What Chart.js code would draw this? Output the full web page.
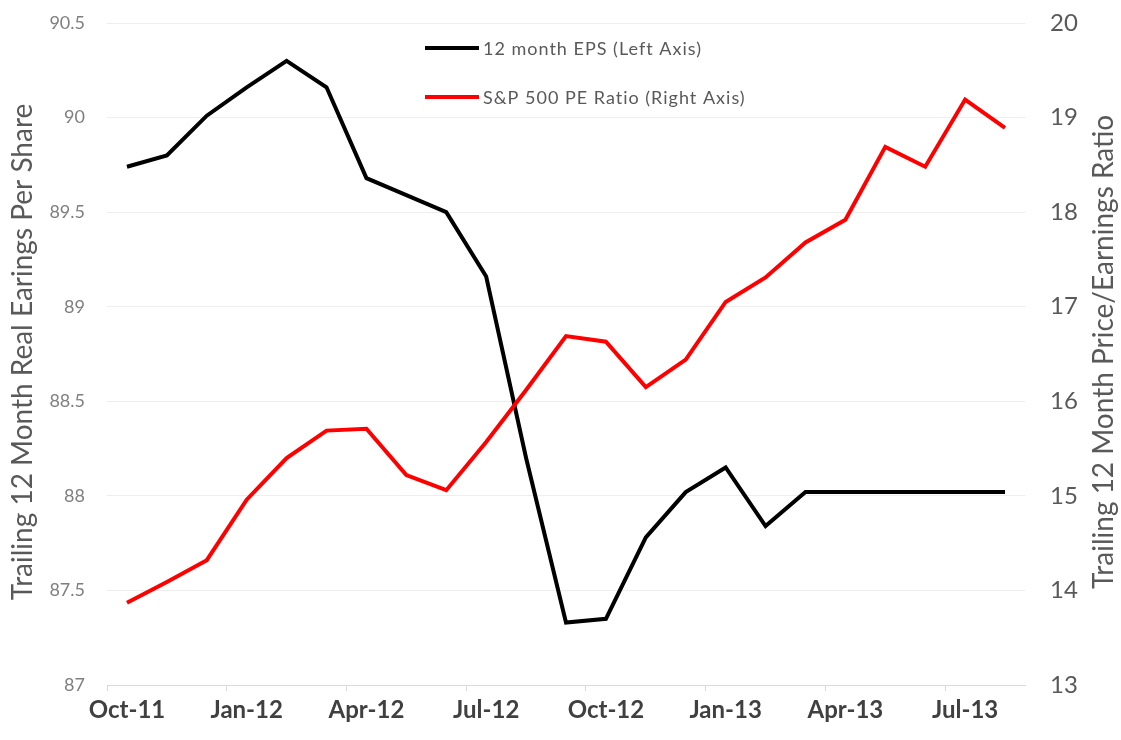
<!DOCTYPE html>
<html>
<head>
<meta charset="utf-8">
<script src="https://cdn.jsdelivr.net/npm/chart.js@4/dist/chart.umd.min.js"></script>
<style>
    html, body { margin: 0; padding: 0; background: #ffffff; }
    #wrap { width: 1121px; height: 740px; }
</style>
</head>
<body>
<div id="wrap"><canvas id="lineChart1"></canvas></div>
<script>
// meses (una categoria por punto)
var months = ["Oct-11", "Nov-11", "Dec-11", "Jan-12", "Feb-12", "Mar-12", "Apr-12", "May-12",
    "Jun-12", "Jul-12", "Aug-12", "Sep-12", "Oct-12", "Nov-12", "Dec-12", "Jan-13",
    "Feb-13", "Mar-13", "Apr-13", "May-13", "Jun-13", "Jul-13", "Aug-13"];

// 12 month EPS (eje izquierdo)
var epsValues = [89.74, 89.80, 90.01, 90.16, 90.30, 90.16, 89.68, 89.59, 89.50, 89.16, 88.20, 87.33,
    87.35, 87.78, 88.02, 88.15, 87.84, 88.02, 88.02, 88.02, 88.02, 88.02, 88.02];

// S&P 500 PE ratio (eje derecho)
var peValues = [13.87, 14.09, 14.32, 14.96, 15.40, 15.69, 15.71, 15.22, 15.06, 15.57, 16.12, 16.69,
    16.63, 16.15, 16.44, 17.05, 17.31, 17.68, 17.92, 18.69, 18.48, 19.19, 18.89];

var epsLabel = "12 month EPS (Left Axis)";
var peLabel = "S&P 500 PE Ratio (Right Axis)";
var leftTitle = "Trailing 12 Month Real Earings Per Share";
var rightTitle = "Trailing 12 Month Price/Earnings Ratio";

Chart.defaults.font.family = "Lato, 'Open Sans', sans-serif";

// leyenda y titulos de ejes dibujados a mano
var extrasPlugin = {
    id: "extras",
    afterDraw: function (chart) {
        var ctx = chart.ctx;
        var area = chart.chartArea;
        ctx.save();

        // leyenda
        var items = chart.data.datasets;
        ctx.font = "18px Lato, 'Open Sans', sans-serif";
        ctx.letterSpacing = "1px";
        ctx.textBaseline = "middle";
        ctx.textAlign = "left";
        items.forEach(function (ds, i) {
            var y = 48 + i * 49;
            ctx.strokeStyle = ds.borderColor;
            ctx.lineWidth = 4;
            ctx.lineCap = "butt";
            ctx.beginPath();
            ctx.moveTo(425, y);
            ctx.lineTo(479, y);
            ctx.stroke();
            ctx.fillStyle = "#595959";
            ctx.fillText(ds.label, 483, y + 1);
        });
        ctx.letterSpacing = "0px";

        // titulos de ejes
        var midY = (area.top + area.bottom) / 2;
        ctx.fillStyle = "#595959";
        ctx.font = "28px Lato, 'Open Sans', sans-serif";
        ctx.textAlign = "center";
        ctx.textBaseline = "middle";

        ctx.save();
        ctx.translate(23, midY - 2);
        ctx.rotate(-Math.PI / 2);
        ctx.fillText(leftTitle, 0, 0);
        ctx.restore();

        ctx.save();
        ctx.translate(1104, midY - 2);
        ctx.rotate(-Math.PI / 2);
        ctx.fillText(rightTitle, 0, 0);
        ctx.restore();

        ctx.restore();
    },
};

var ctx1 = document.getElementById("lineChart1").getContext("2d");
var lineChart1 = new Chart(ctx1, {
    type: "line",
    data: {
        labels: months,
        datasets: [
            {
                label: epsLabel,
                data: epsValues,
                yAxisID: "y",
                borderColor: "#000000",
                backgroundColor: "#000000",
                borderWidth: 4,
                pointRadius: 0,
                tension: 0,
                order: 2,
            },
            {
                label: peLabel,
                data: peValues,
                yAxisID: "y1",
                borderColor: "#ff0000",
                backgroundColor: "#ff0000",
                borderWidth: 4,
                pointRadius: 0,
                tension: 0,
                order: 1,
            },
        ],
    },
    options: {
        responsive: true,
        maintainAspectRatio: false,
        animation: false,
        layout: {
            padding: { top: 23, left: 0, right: 0, bottom: 0 },
        },
        plugins: {
            legend: { display: false },
            tooltip: { enabled: false },
        },
        scales: {
            x: {
                type: "category",
                offset: true,
                border: { display: true, color: "#d9d9d9", width: 1 },
                grid: {
                    offset: true,
                    drawOnChartArea: false,
                    drawTicks: true,
                    tickLength: 6,
                    color: function (c) {
                        return c.index % 3 === 0 ? "#d9d9d9" : "rgba(0,0,0,0)";
                    },
                },
                ticks: {
                    autoSkip: false,
                    maxRotation: 0,
                    padding: 5,
                    color: "#404040",
                    font: { size: 24, weight: "bold" },
                    callback: function (value, index) {
                        return index % 3 === 0 ? months[index] : "";
                    },
                },
                afterFit: function (scale) {
                    scale.height = 55;
                    scale.paddingLeft = 0;
                    scale.paddingRight = 0;
                },
            },
            y: {
                position: "left",
                min: 87,
                max: 90.5,
                border: { display: false },
                grid: { color: "#eeeeee", lineWidth: 1, drawTicks: false },
                ticks: {
                    stepSize: 0.5,
                    padding: 22,
                    color: "#7f7f7f",
                    font: { size: 18 },
                    callback: function (value) {
                        return String(value);
                    },
                },
                afterFit: function (scale) {
                    scale.width = 107;
                    scale.paddingTop = 0;
                    scale.paddingBottom = 0;
                },
            },
            y1: {
                position: "right",
                min: 13,
                max: 20,
                border: { display: false },
                grid: { drawOnChartArea: false, drawTicks: false },
                ticks: {
                    stepSize: 1,
                    padding: 25,
                    color: "#595959",
                    font: { size: 24 },
                },
                afterFit: function (scale) {
                    scale.width = 96;
                    scale.paddingTop = 0;
                    scale.paddingBottom = 0;
                },
            },
        },
    },
    plugins: [extrasPlugin],
});
</script>
</body>
</html>
